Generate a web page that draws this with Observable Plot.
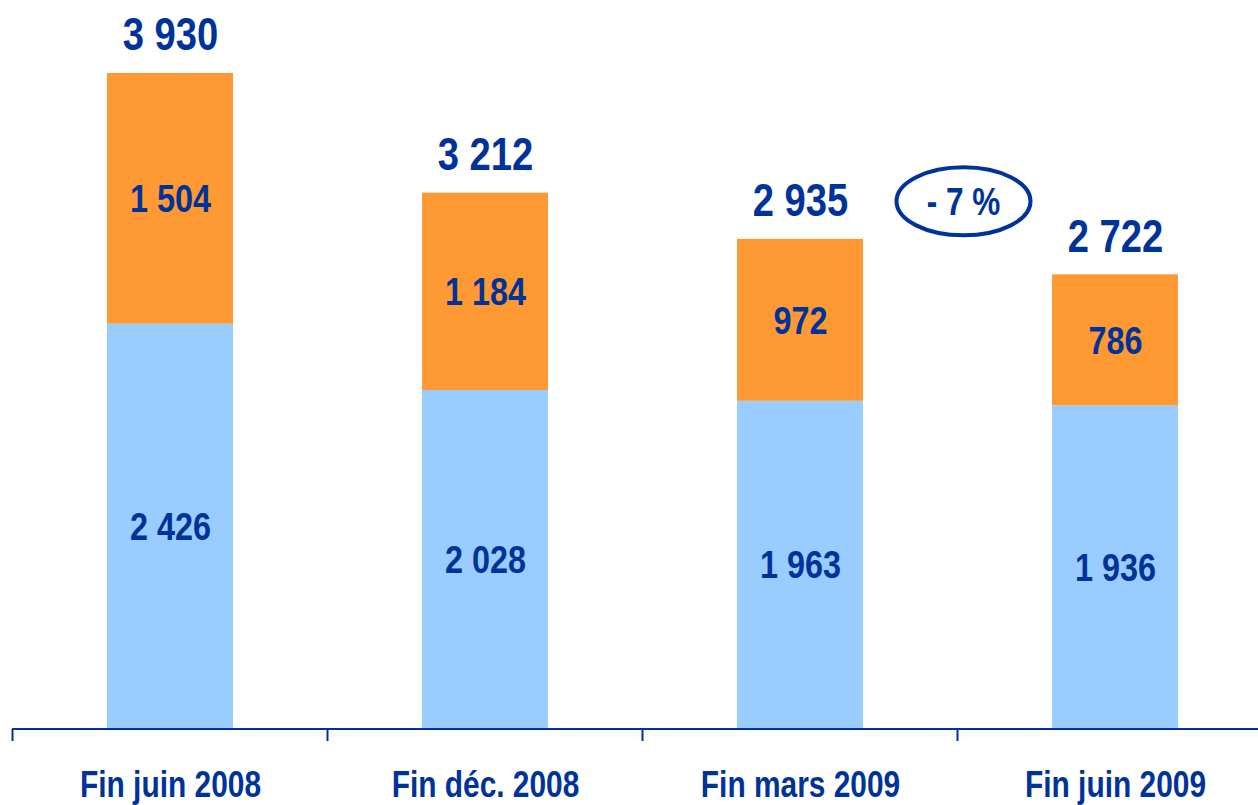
<!DOCTYPE html>
<html>
<head>
<meta charset="utf-8">
<script src="https://cdn.jsdelivr.net/npm/d3@7"></script>
<script src="https://cdn.jsdelivr.net/npm/@observablehq/plot@0.6"></script>
<style>
  html, body { margin: 0; padding: 0; background: #fff; }
  #chart svg { display: block; }
</style>
</head>
<body>
<div id="chart"></div>
<script>
const categories = ["Fin juin 2008", "Fin déc. 2008", "Fin mars 2009", "Fin juin 2009"];
const bottomValues = [2426, 2028, 1963, 1936];   // bleu clair
const topValues = [1504, 1184, 972, 786];        // orange
const totals = [3930, 3212, 2935, 2722];
const annotationText = "- 7 %";
const annotationBetween = ["Fin mars 2009", "Fin juin 2009"];
const annotationValue = 3160;

const fmt = v => d3.format(",")(v).replace(/,/g, " ");
const navy = "#003399";
const orange = "#FF9933";
const blue = "#99CCFF";
const font = "'Liberation Sans Narrow', 'Arial Narrow', 'Liberation Sans', Arial, sans-serif";
const condense = 0.83;

const rows = [];
categories.forEach((c, i) => {
  rows.push({cat: c, serie: "bas", value: bottomValues[i], y1: 0, y2: bottomValues[i]});
  rows.push({cat: c, serie: "haut", value: topValues[i], y1: bottomValues[i], y2: bottomValues[i] + topValues[i]});
});
const totalRows = categories.map((c, i) => ({cat: c, total: totals[i]}));

function axisAndAnnotation(index, scales, values, dims) {
  const x = scales.x, y = scales.y;
  const step = x(categories[1]) - x(categories[0]);
  const bw = step * 0.4;
  const start = c => x(c);             // band start
  const g = d3.create("svg:g");
  const y0 = y(0) + 1;
  g.append("line")
    .attr("x1", dims.marginLeft).attr("x2", dims.width - dims.marginRight)
    .attr("y1", y0).attr("y2", y0)
    .attr("stroke", navy).attr("stroke-width", 2);
  categories.forEach(c => {
    const xt = start(c) - step * 0.3;
    g.append("line")
      .attr("x1", xt).attr("x2", xt)
      .attr("y1", y0).attr("y2", y0 + 12)
      .attr("stroke", navy).attr("stroke-width", 2);
  });
  const cx = (start(annotationBetween[0]) + start(annotationBetween[1])) / 2 + bw / 2 + 6;
  const cy = y(annotationValue);
  g.append("ellipse")
    .attr("cx", cx).attr("cy", cy).attr("rx", 67).attr("ry", 34)
    .attr("fill", "none").attr("stroke", navy).attr("stroke-width", 4);
  g.append("text")
    .attr("x", cx).attr("y", cy).attr("dy", "0.36em")
    .attr("text-anchor", "middle")
    .attr("fill", navy).attr("font-weight", "bold")
    .attr("font-size", 38).attr("font-family", font)
    .text(annotationText);
  return g.node();
}

const chart = Plot.plot({
  width: 1258,
  height: 805,
  marginLeft: 12,
  marginRight: 0,
  marginTop: 73,
  marginBottom: 77,
  style: {fontFamily: font, background: "#fff"},
  x: {domain: categories, range: [12, 1272], paddingInner: 0.6, paddingOuter: 0.3, axis: null},
  y: {domain: [0, 3930], axis: null},
  color: {domain: ["bas", "haut"], range: [blue, orange]},
  marks: [
    Plot.rectY(rows, {x: "cat", y1: "y1", y2: "y2", fill: "serie"}),
    Plot.text(rows, {x: "cat", y: d => (d.y1 + d.y2) / 2, text: d => fmt(d.value),
      dy: 1, fill: navy, fontSize: 39, fontWeight: "bold"}),
    Plot.text(totalRows, {x: "cat", y: "total", text: d => fmt(d.total),
      dy: -38, fill: navy, fontSize: 46, fontWeight: "bold"}),
    Plot.text(categories, {x: d => d, y: 0, text: d => d, dy: 57,
      fill: navy, fontSize: 36, fontWeight: "bold"}),
    axisAndAnnotation
  ]
});
document.getElementById("chart").appendChild(chart);

// Narrow the bold face (no Arial Narrow installed)
d3.select(chart).selectAll("text").each(function() {
  const len = this.getComputedTextLength();
  if (len > 0) {
    this.setAttribute("textLength", (len * condense).toFixed(1));
    this.setAttribute("lengthAdjust", "spacingAndGlyphs");
  }
});
</script>
</body>
</html>
